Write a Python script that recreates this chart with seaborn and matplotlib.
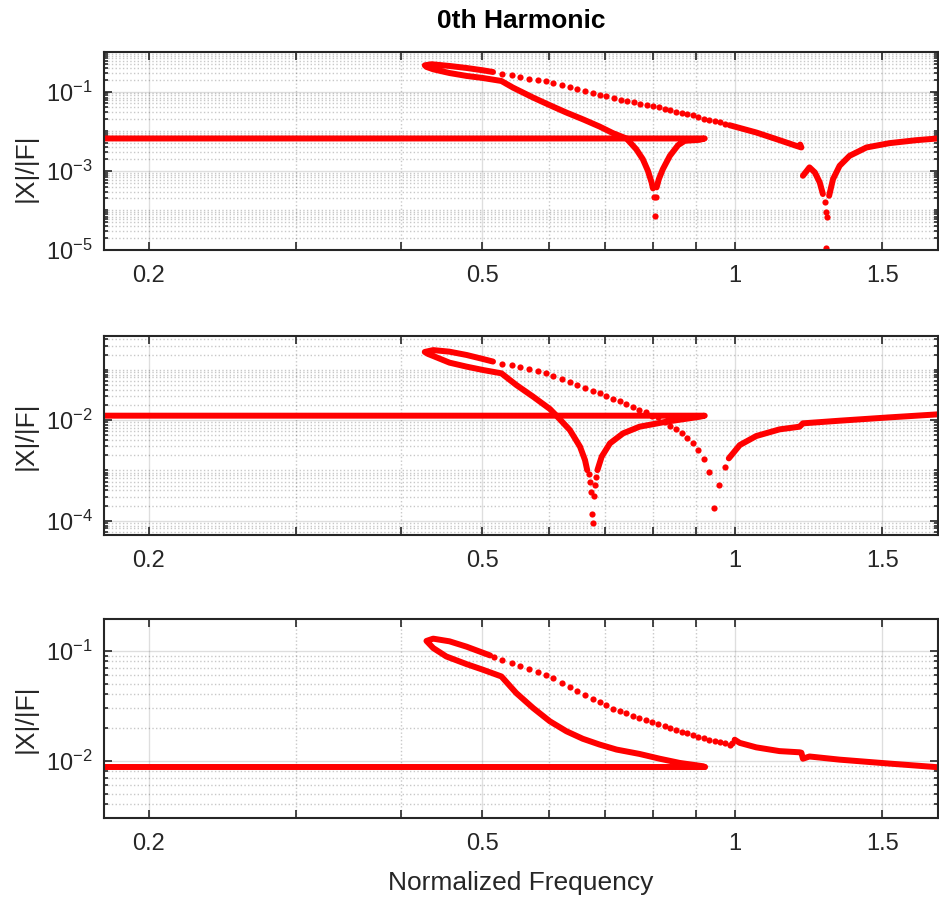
import numpy as np
import matplotlib
matplotlib.use("Agg")
import matplotlib.pyplot as plt
import seaborn as sns
from matplotlib.ticker import FixedLocator, FixedFormatter, LogLocator, NullFormatter

# ---- data (normalized frequency, |X|/|F|) ----
# panel 1
p1_flat_f = [0.177, 0.921, 0.908, 0.872, 0.856, 0.837, 0.821, 0.812, 0.807]
p1_flat_a = [6.55e-3, 6.55e-3, 6.05e-3, 5.71e-3, 4.44e-3, 2.39e-3, 1.10e-3, 6.18e-4, 3.81e-4]
p1_dip_f = [0.801, 0.806, 0.803]
p1_dip_a = [2.13e-4, 2.13e-4, 7.1e-5]
p1_loop_f = [0.799, 0.796, 0.788, 0.777, 0.763, 0.743, 0.716, 0.690, 0.659, 0.630, 0.602, 0.575,
             0.544, 0.527, 0.501, 0.479, 0.457, 0.437, 0.429, 0.427, 0.435, 0.457, 0.479, 0.501, 0.515]
p1_loop_a = [3.6e-4, 5.09e-4, 1.0e-3, 1.97e-3, 3.52e-3, 6.53e-3, 8.91e-3, 0.0131, 0.0200, 0.0295, 0.0452, 0.0705,
             0.126, 0.185, 0.220, 0.248, 0.294, 0.365, 0.42, 0.46, 0.49, 0.443, 0.394, 0.344, 0.312]
p1_dots_f = [0.528, 0.542, 0.554, 0.569, 0.582, 0.595, 0.608, 0.623, 0.636, 0.649, 0.663, 0.677, 0.690, 0.703,
             0.718, 0.731, 0.744, 0.758, 0.772, 0.786, 0.799, 0.812, 0.826, 0.838, 0.852, 0.866, 0.878, 0.892,
             0.904, 0.919, 0.932, 0.947, 0.960, 0.973]
p1_dots_a = [0.273, 0.258, 0.238, 0.212, 0.196, 0.182, 0.168, 0.147, 0.131, 0.116, 0.104, 0.0942, 0.0839, 0.0762,
             0.0705, 0.0628, 0.0593, 0.0537, 0.0498, 0.0452, 0.0427, 0.0403, 0.0365, 0.0338, 0.0313, 0.0290, 0.0268,
             0.0253, 0.0230, 0.0208, 0.0193, 0.0182, 0.0169, 0.0156]
p1_upper_f = [0.986, 1.061, 1.131, 1.184, 1.201, 1.197]
p1_upper_a = [0.01416, 0.00927, 0.00593, 0.00427, 0.00388, 0.0046]
p1_right_f = [1.206, 1.228, 1.246, 1.263, 1.274]
p1_right_a = [7.48e-4, 1.22e-3, 9.12e-4, 5.1e-4, 2.59e-4]
p1_dip2_f = [1.280, 1.284, 1.288, 1.286]
p1_dip2_a = [1.6e-4, 8.95e-5, 6.7e-5, 1.1e-5]
p1_tail_f = [1.296, 1.310, 1.334, 1.371, 1.436, 1.530, 1.647, 1.747]
p1_tail_a = [2.34e-4, 6.18e-4, 1.34e-3, 2.39e-3, 3.88e-3, 4.99e-3, 5.93e-3, 6.55e-3]

# panel 2
p2_flat_f = [0.177, 0.921, 0.908, 0.829, 0.770, 0.736, 0.710, 0.694, 0.686]
p2_flat_a = [0.0122, 0.0122, 0.0116, 9.27e-3, 7.37e-3, 5.43e-3, 3.44e-3, 1.87e-3, 1.01e-3]
p2_dip_f = [0.683, 0.681, 0.679, 0.677, 0.675, 0.674, 0.672, 0.670]
p2_dip_a = [7.47e-4, 5.1e-4, 3.13e-4, 9.1e-5, 1.33e-4, 3.65e-4, 5.94e-4, 8.44e-4]
p2_loop_f = [0.667, 0.663, 0.654, 0.636, 0.613, 0.602, 0.575, 0.549, 0.527, 0.501, 0.479, 0.457, 0.437,
             0.431, 0.427, 0.437, 0.457, 0.479, 0.501, 0.515]
p2_loop_a = [1.01e-3, 1.60e-3, 2.95e-3, 6.32e-3, 0.0122, 0.0166, 0.0291, 0.0497, 0.0847, 0.0986, 0.115, 0.138,
             0.187, 0.205, 0.225, 0.245, 0.228, 0.196, 0.163, 0.145]
p2_dots_f = [0.528, 0.542, 0.555, 0.569, 0.582, 0.595, 0.608, 0.623, 0.636, 0.649, 0.663, 0.677, 0.690, 0.703,
             0.716, 0.729, 0.743, 0.756, 0.769, 0.783, 0.797, 0.810, 0.825, 0.838, 0.852, 0.866, 0.878, 0.892,
             0.904, 0.919, 0.932, 0.946, 0.958, 0.973]
p2_dots_a = [0.132, 0.122, 0.111, 0.102, 0.0929, 0.0847, 0.0750, 0.0653, 0.0561, 0.0489, 0.0433, 0.0383, 0.0339,
             0.0296, 0.0261, 0.0235, 0.0208, 0.0184, 0.0158, 0.0142, 0.0122, 0.0113, 0.00912, 0.00771, 0.00652,
             0.00543, 0.00446, 0.00344, 0.00254, 1.70e-3, 9.12e-4, 1.81e-4, 5.02e-4, 1.15e-3]
p2_right_f = [0.984, 1.014, 1.061, 1.131, 1.195, 1.206, 1.334, 1.530, 1.751]
p2_right_a = [1.73e-3, 3.18e-3, 4.81e-3, 6.52e-3, 7.37e-3, 8.59e-3, 9.70e-3, 0.0113, 0.0130]

# panel 3
p3_flat_f = [0.177, 0.921]
p3_flat_a = [8.75e-3, 8.75e-3]
p3_loop_f = [0.921, 0.917, 0.860, 0.814, 0.770, 0.723, 0.690, 0.659, 0.630, 0.602, 0.575, 0.549, 0.527,
             0.501, 0.479, 0.453, 0.437, 0.429, 0.437, 0.457, 0.479, 0.511]
p3_loop_a = [8.75e-3, 8.88e-3, 9.52e-3, 0.0104, 0.0115, 0.0126, 0.0140, 0.0158, 0.0185, 0.0228, 0.0301, 0.0412,
             0.0584, 0.0672, 0.0756, 0.0888, 0.106, 0.123, 0.129, 0.122, 0.109, 0.0907]
p3_dots_f = [0.517, 0.528, 0.542, 0.555, 0.569, 0.582, 0.595, 0.608, 0.623, 0.636, 0.649, 0.663, 0.677, 0.690,
             0.703, 0.716, 0.729, 0.743, 0.756, 0.769, 0.783, 0.797, 0.810, 0.825, 0.838, 0.852, 0.866, 0.878,
             0.892, 0.904, 0.919, 0.932, 0.947, 0.960, 0.973, 0.986, 0.994]
p3_dots_a = [0.0870, 0.0817, 0.0767, 0.0720, 0.0681, 0.0640, 0.0605, 0.0564, 0.0508, 0.0467, 0.0427, 0.0398,
             0.0366, 0.0341, 0.0318, 0.0297, 0.0285, 0.0269, 0.0257, 0.0244, 0.0233, 0.0223, 0.0214, 0.0205,
             0.0197, 0.0190, 0.0183, 0.0177, 0.0171, 0.0165, 0.0161, 0.0155, 0.0152, 0.0148, 0.0144, 0.0140, 0.0145]
p3_right_f = [1.000, 1.014, 1.061, 1.131, 1.195, 1.201, 1.206, 1.228, 1.334, 1.530, 1.751]
p3_right_a = [0.0155, 0.0145, 0.0132, 0.0122, 0.0119, 0.0118, 0.0104, 0.0109, 0.0102, 9.39e-3, 8.69e-3]

# ticks
x_ticks = [0.2, 0.5, 1, 1.5]
x_ticklabels = ["0.2", "0.5", "1", "1.5"]
x_minor = [0.3, 0.4, 0.6, 0.7, 0.8, 0.9]
y_ticks = [[1e-5, 1e-3, 1e-1], [1e-4, 1e-2], [1e-2, 1e-1]]
y_ticklabels = [[r"$\mathregular{10^{-5}}$", r"$\mathregular{10^{-3}}$", r"$\mathregular{10^{-1}}$"],
                [r"$\mathregular{10^{-4}}$", r"$\mathregular{10^{-2}}$"],
                [r"$\mathregular{10^{-2}}$", r"$\mathregular{10^{-1}}$"]]

RED = "#ff0000"
INK = "#262626"

sns.set_style("ticks")
plt.rcParams['font.family'] = ['Liberation Sans', 'DejaVu Sans']
plt.rcParams['mathtext.fontset'] = 'custom'
plt.rcParams['mathtext.rm'] = 'Liberation Sans'


def dense(ax, f, a):
    sns.lineplot(x=f, y=a, ax=ax, sort=False, estimator=None, color=RED, lw=4.3,
                 solid_capstyle='round', solid_joinstyle='round')


def dots(ax, f, a):
    sns.scatterplot(x=f, y=a, ax=ax, color=RED, s=20, linewidth=0)


def style(ax, ylim, yt, ytl, label_y):
    ax.set_xlim(0.177, 1.747)
    ax.set_ylim(*ylim)
    ax.xaxis.set_major_locator(FixedLocator(x_ticks))
    ax.xaxis.set_major_formatter(FixedFormatter(x_ticklabels))
    ax.xaxis.set_minor_locator(FixedLocator(x_minor))
    ax.xaxis.set_minor_formatter(NullFormatter())
    ax.yaxis.set_major_locator(FixedLocator(yt))
    ax.yaxis.set_major_formatter(FixedFormatter(ytl))
    ax.yaxis.set_minor_locator(LogLocator(base=10, subs=np.arange(1, 10), numticks=100))
    ax.yaxis.set_minor_formatter(NullFormatter())
    ax.grid(which='major', color=INK, alpha=0.15, lw=1, ls='-')
    ax.grid(which='minor', color=INK, alpha=0.25, lw=1, ls=':')
    ax.set_axisbelow(True)
    ax.tick_params(which='both', direction='in', top=True, right=True, width=1.2,
                   color=INK, labelcolor=INK, labelsize=17)
    ax.tick_params(which='major', length=5.8)
    ax.tick_params(axis='x', which='minor', length=5.8)
    ax.tick_params(axis='y', which='minor', length=3.2)
    ax.tick_params(axis='x', pad=11)
    ax.tick_params(axis='y', pad=8)
    for s in ax.spines.values():
        s.set_visible(True)
        s.set_linewidth(1.5)
        s.set_color(INK)
    ax.set_xlabel("")
    ax.set_ylabel("|X|/|F|", fontsize=19, color=INK)
    ax.yaxis.set_label_coords(-0.08, label_y)


fig = plt.figure(figsize=(9.39, 8.99), dpi=100)
ax1 = fig.add_axes([0.1108, 0.7219, 0.888, 0.2203])
ax2 = fig.add_axes([0.1108, 0.4049, 0.888, 0.2214])
ax3 = fig.add_axes([0.1108, 0.0901, 0.888, 0.2214])
for ax in (ax1, ax2, ax3):
    ax.set_xscale('log')
    ax.set_yscale('log')

dense(ax1, p1_flat_f, p1_flat_a)
dots(ax1, p1_dip_f, p1_dip_a)
dense(ax1, p1_loop_f, p1_loop_a)
dots(ax1, p1_dots_f, p1_dots_a)
dense(ax1, p1_upper_f, p1_upper_a)
dense(ax1, p1_right_f, p1_right_a)
dots(ax1, p1_dip2_f, p1_dip2_a)
dense(ax1, p1_tail_f, p1_tail_a)

dense(ax2, p2_flat_f, p2_flat_a)
dots(ax2, p2_dip_f, p2_dip_a)
dense(ax2, p2_loop_f, p2_loop_a)
dots(ax2, p2_dots_f, p2_dots_a)
dense(ax2, p2_right_f, p2_right_a)

dense(ax3, p3_flat_f, p3_flat_a)
dense(ax3, p3_loop_f, p3_loop_a)
dots(ax3, p3_dots_f, p3_dots_a)
dense(ax3, p3_right_f, p3_right_a)

style(ax1, (1e-5, 1.0), y_ticks[0], y_ticklabels[0], 0.414)
style(ax2, (5.2e-5, 0.468), y_ticks[1], y_ticklabels[1], 0.5)
style(ax3, (3.0e-3, 0.195), y_ticks[2], y_ticklabels[2], 0.5)

ax1.set_title("0th Harmonic", fontsize=19, fontweight='bold', color='black', pad=17)
ax3.set_xlabel("Normalized Frequency", fontsize=19, color=INK, labelpad=11)

fig.savefig("out.png", dpi=100)
